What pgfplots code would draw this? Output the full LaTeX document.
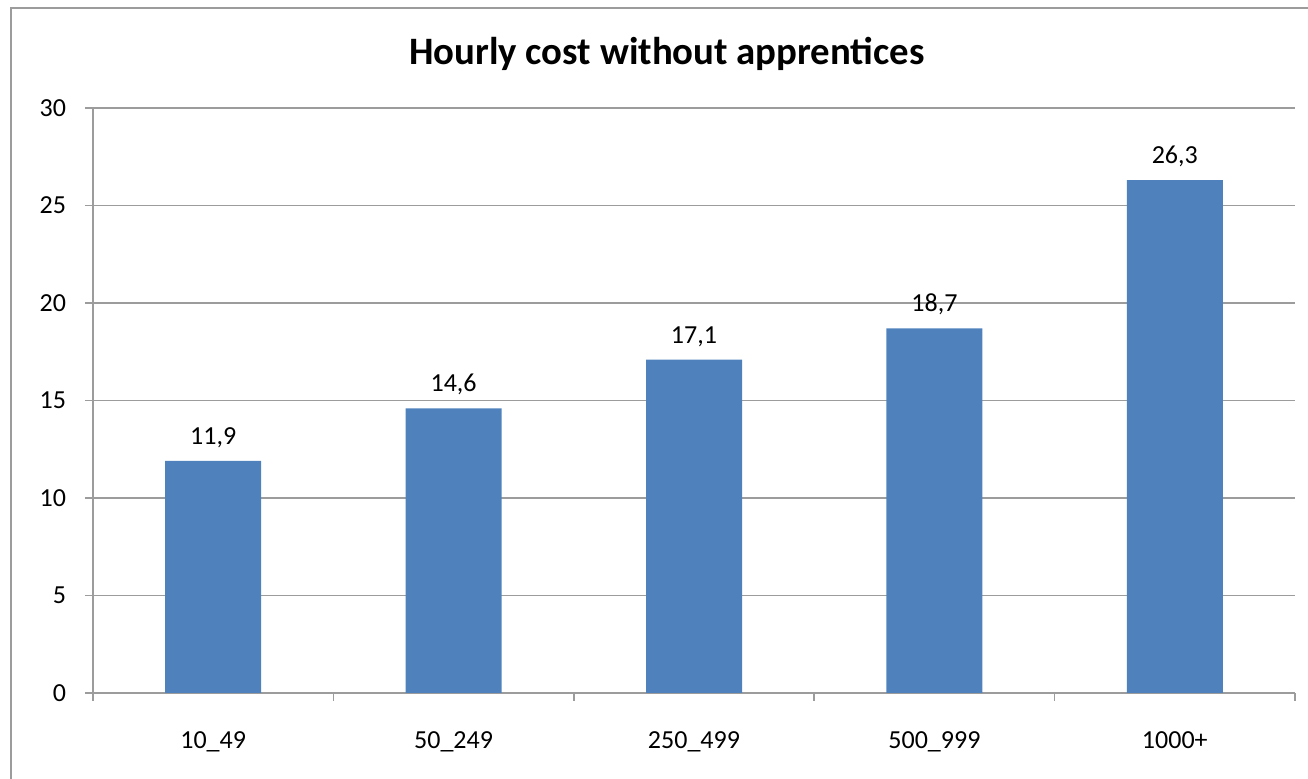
\documentclass[border=0pt]{standalone}
\usepackage{fontspec}
\setmainfont{Carlito}
\usepackage{pgfplots}
\pgfplotsset{compat=1.18}
\definecolor{barblue}{HTML}{4F81BD}
\definecolor{gridgray}{HTML}{9C9C9C}
\begin{document}
\begin{tikzpicture}[x=1pt,y=1pt]
\useasboundingbox (0,0) rectangle (654,389.5);
\draw[gridgray, line width=1pt] (5.5,-20) rectangle (680,385.5);
\node[font=\fontsize{19.4}{22}\selectfont\bfseries] at (333.5,362.5) {Hourly cost without apprentices};
\begin{axis}[
  at={(46.5pt,43pt)}, anchor=south west,
  scale only axis, width=601pt, height=292.5pt,
  xmin=0, xmax=5, ymin=0, ymax=30,
  axis x line=bottom, axis y line=left,
  axis line style={-, gridgray, line width=0.8pt},
  ymajorgrids, grid style={gridgray, line width=0.8pt},
  ytick={0,5,...,30},
  xtick={0.5,1.5,2.5,3.5,4.5},
  xticklabels={10\_49,50\_249,250\_499,500\_999,1000+},
  minor xtick={0,1,2,3,4,5},
  tick align=outside,
  x tick style={/pgfplots/major tick length=0pt, /pgfplots/minor tick length=4pt, gridgray, line width=0.8pt},
  y tick style={/pgfplots/major tick length=4pt, gridgray, line width=0.8pt},
  /pgf/number format/assume math mode=true,
  ticklabel style={font=\fontsize{13}{15}\selectfont},
  yticklabel style={inner sep=0pt, xshift=-9pt},
  xticklabel style={inner sep=0pt, yshift=-15pt},
  ybar, bar width=48pt,
  nodes near coords,
  nodes near coords style={font=\fontsize{13}{15}\selectfont, text=black, yshift=3pt,
    /pgf/number format/.cd, fixed, precision=1, fixed zerofill, use comma, assume math mode=true},
]
\addplot[fill=barblue, draw=none] coordinates {(0.5,11.9) (1.5,14.6) (2.5,17.1) (3.5,18.7) (4.5,26.3)};
\end{axis}
\end{tikzpicture}
\end{document}
